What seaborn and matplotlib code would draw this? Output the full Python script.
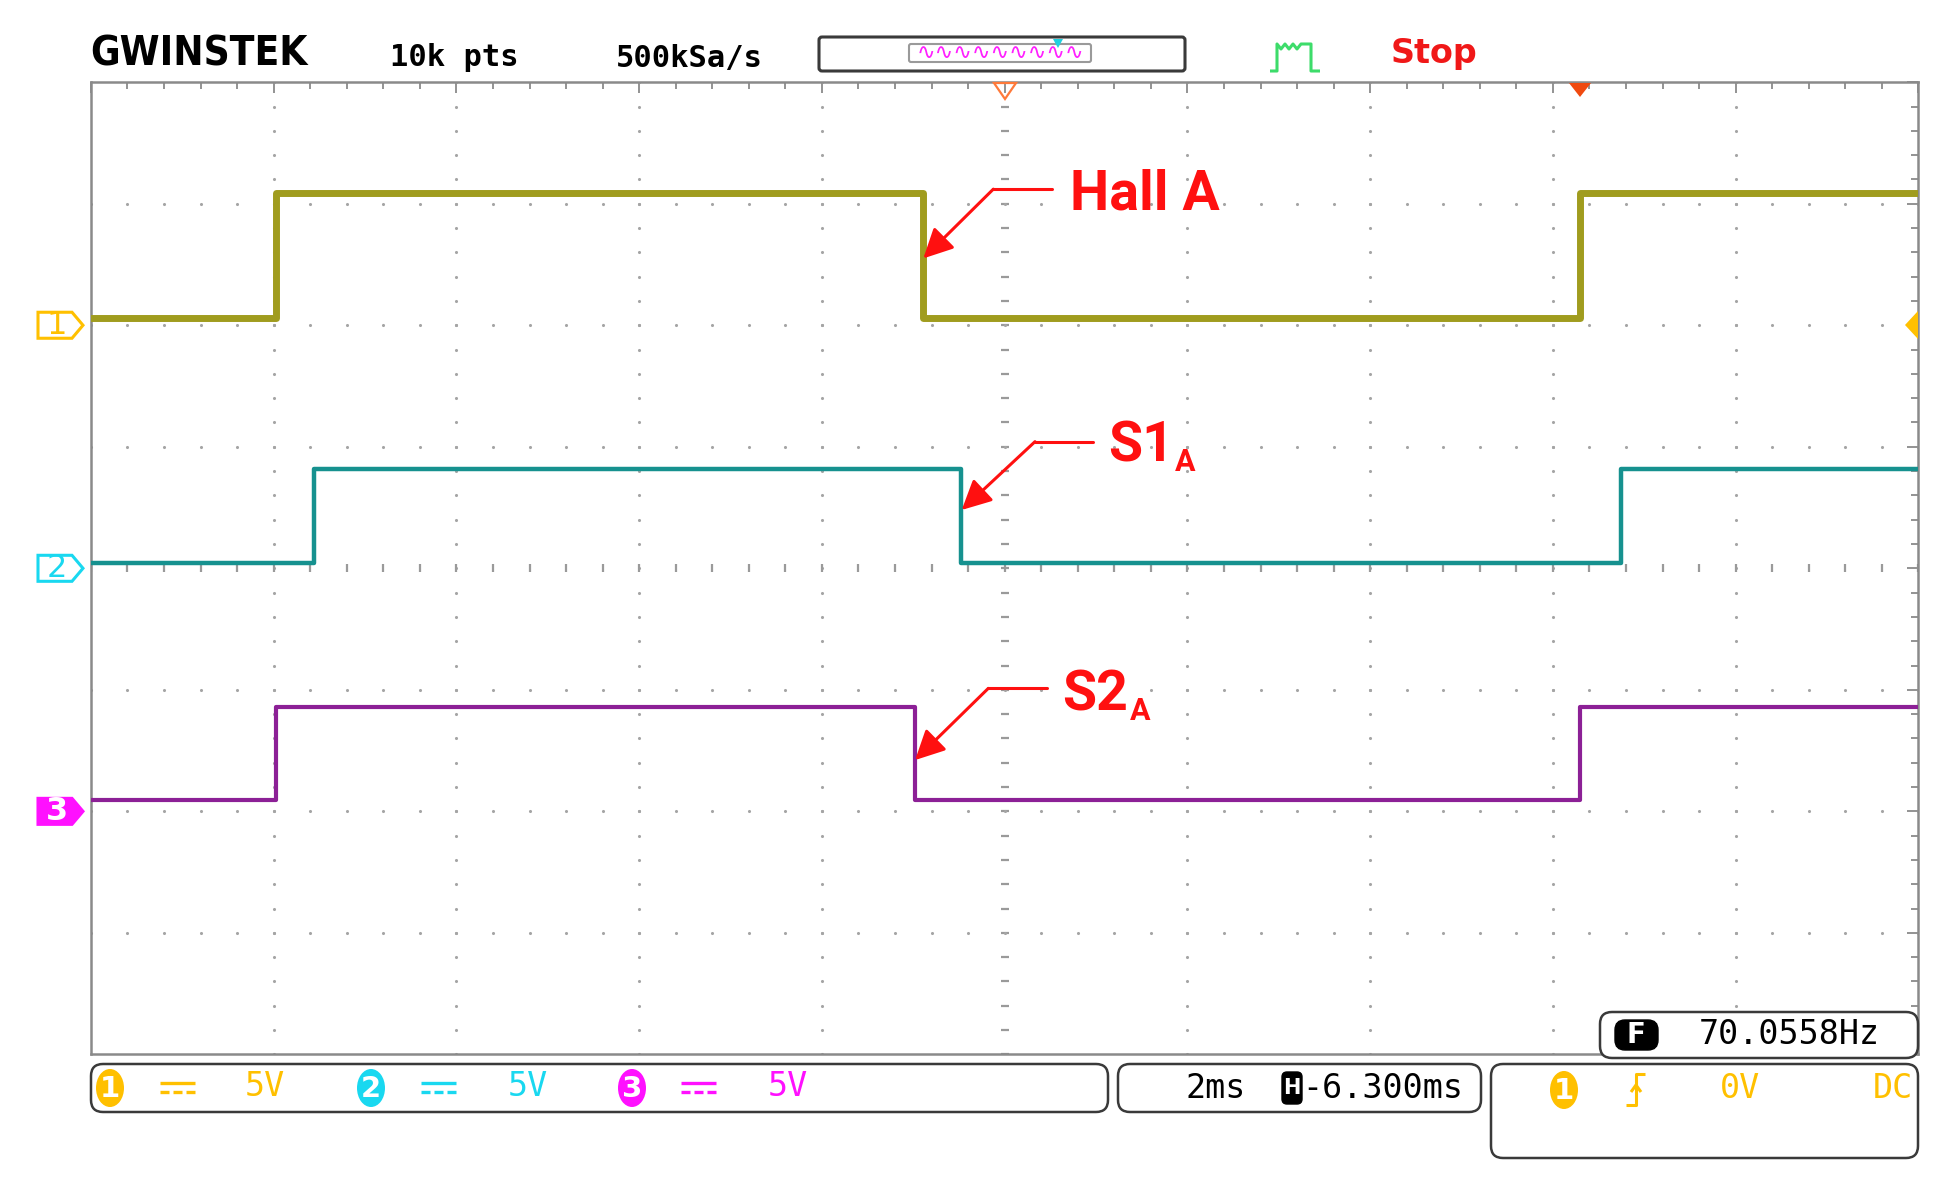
import numpy as np
import pandas as pd
import seaborn as sns
import matplotlib.pyplot as plt
from matplotlib.patches import FancyBboxPatch, Polygon, Ellipse
from matplotlib.lines import Line2D
from matplotlib.transforms import Affine2D, blended_transform_factory

W, H = 1952, 1196

# time in ms relative to the trigger (2 ms/div, H position -6.300 ms)
t_start, t_end = -16.3, 3.7
volts_per_div = 5

ch1_time = [-16.3, -14.27, -7.19, 0.0, 3.7]
ch1_volt = [0.3, 5.45, 0.3, 5.45, 5.45]
ch2_time = [-16.3, -13.86, -6.78, 0.44, 3.7]
ch2_volt = [0.2, 4.1, 0.2, 4.1, 4.1]
ch3_time = [-16.3, -14.27, -7.28, 0.0, 3.7]
ch3_volt = [0.45, 4.3, 0.45, 4.3, 4.3]

ch_names = ["CH1", "CH2", "CH3"]
ch_offsets = [2, 0, -2]          # ground position in divisions
trace_colors = ["#a09c1e", "#16918f", "#8c2096"]
trace_widths = [5.0, 3.2, 3.0]
marker_colors = ["#ffc000", "#19d8f0", "#ff10ff"]

# annotations: label, subscript, text x, baseline y, line start x, elbow x, line y, tip
ann_labels = ["Hall A", "S1", "S2"]
ann_sub = ["", "A", "A"]
ann_text_x = [-5.58, -5.17, -5.67]
ann_text_y = [2.95, 0.877, -1.174]
ann_line_x0 = [-5.785, -5.333, -5.84]
ann_elbow_x = [-6.424, -5.968, -6.479]
ann_line_y = [3.12, 1.042, -0.988]
ann_tip_x = [-7.19, -6.77, -7.28]
ann_tip_y = [2.55, 0.48, -1.578]

sns.set_style("white")
plt.rcParams["font.family"] = ["DejaVu Sans"]

fig = plt.figure(figsize=(W / 100, H / 100), dpi=100)
ax = fig.add_axes([90.9 / W, 1 - 1054.4 / H, 1827.5 / W, 972.2 / H])
pix = Affine2D().scale(1 / W, -1 / H).translate(0, 1) + fig.transFigure

# grid (scope style dotted graticule)
x_major = np.linspace(t_start, t_end, 11)
x_minor = np.linspace(t_start, t_end, 51)
y_major = np.linspace(-4, 4, 9)
y_minor = np.linspace(-4, 4, 41)
for xv in x_major[1:-1]:
    if abs(xv - (-6.3)) < 1e-6:
        ax.scatter(np.full(len(y_minor), xv), y_minor, marker="_", s=40, color="#9a9a9a", lw=1.6, zorder=1)
    else:
        ax.scatter(np.full(len(y_minor), xv), y_minor, s=5, color="#a5a5a5", lw=0, zorder=1)
for yv in y_major[1:-1]:
    if abs(yv) < 1e-6:
        ax.scatter(x_minor, np.full(len(x_minor), yv), marker="|", s=40, color="#9a9a9a", lw=1.6, zorder=1)
    else:
        ax.scatter(x_minor, np.full(len(x_minor), yv), s=5, color="#a5a5a5", lw=0, zorder=1)

# traces
for name, t, v, off, c, lw in zip(ch_names, [ch1_time, ch2_time, ch3_time],
                                  [ch1_volt, ch2_volt, ch3_volt], ch_offsets,
                                  trace_colors, trace_widths):
    df = pd.DataFrame({"time": t, "div": off + np.array(v) / volts_per_div})
    sns.lineplot(data=df, x="time", y="div", color=c, lw=lw, drawstyle="steps-post",
                 estimator=None, sort=False, legend=False, ax=ax, zorder=3)

ax.set_xlim(t_start, t_end)
ax.set_ylim(-4, 4)
ax.set_xlabel("")
ax.set_ylabel("")
ax.set_xticks(x_major)
ax.set_xticks(x_minor, minor=True)
ax.set_yticks(y_major)
ax.set_yticks(y_minor, minor=True)
ax.tick_params(which="both", direction="in", top=True, right=True,
               labelbottom=False, labelleft=False, color="#8a8a8a", width=1.3)
ax.tick_params(which="major", length=8)
ax.tick_params(which="minor", length=5)
for s in ax.spines.values():
    s.set_color("#8a8a8a")
    s.set_linewidth(1.8)

# red annotations
for lab, sub, tx, ty, lx0, ex, ly, px_, py_ in zip(ann_labels, ann_sub, ann_text_x, ann_text_y,
                                                   ann_line_x0, ann_elbow_x, ann_line_y,
                                                   ann_tip_x, ann_tip_y):
    ax.plot([lx0, ex], [ly, ly], color="#ff1010", lw=2.2, zorder=4)
    ax.annotate("", xy=(px_, py_), xytext=(ex, ly),
                arrowprops=dict(arrowstyle="-|>,head_length=0.5,head_width=0.25",
                                color="#ff1010", lw=2.2, mutation_scale=36,
                                shrinkA=0, shrinkB=0), zorder=4)
    main = ax.text(tx, ty, lab, color="#ff1010", fontsize=40, fontweight="bold",
                   family="Roboto", va="baseline", ha="left", zorder=4)
    if sub:
        ax.annotate(sub, xy=(1, 0), xycoords=main, xytext=(1, -3), textcoords="offset points",
                    color="#ff1010", fontsize=22, fontweight="bold", family="Roboto",
                    va="bottom", ha="left", zorder=4)


def box(x0, y0, x1, y1, r=12, fc="white", ec="#3a3a3a", lw=1.8, z=5):
    p = FancyBboxPatch((x0, y0), x1 - x0, y1 - y0, boxstyle=f"round,pad=0,rounding_size={r}",
                       transform=pix, fc=fc, ec=ec, lw=lw, zorder=z, clip_on=False)
    fig.add_artist(p)


def label(x, y, s, color="black", size=24, ha="left", family="DejaVu Sans Mono",
          weight="normal", z=7, stretch="normal"):
    fig.text(x, y, s, transform=pix, color=color, fontsize=size, ha=ha, va="center",
             family=family, weight=weight, zorder=z, fontstretch=stretch)


def line(xs, ys, color, lw=2.2, z=7, ls="-"):
    fig.add_artist(Line2D(xs, ys, transform=pix, color=color, lw=lw, ls=ls, zorder=z,
                          solid_capstyle="butt"))


# header
label(90, 54, "GWINSTEK", size=29, family="DejaVu Sans", weight="heavy", stretch="condensed")
label(390, 58, "10k pts", size=22, weight="bold")
label(616, 58, "500kSa/s", size=22, weight="bold")
box(819, 37, 1185, 71, r=3, lw=2.2)
box(909, 44, 1091, 62, r=2, ec="#9a9a9a", lw=1.5)
label(1000, 53, "\u223f" * 9, color="#ff20ff", size=16, ha="center", family="DejaVu Sans")
fig.add_artist(Polygon([(1053, 39), (1063, 39), (1058, 48)], closed=True, transform=pix,
                       fc="#20d0e0", ec="none", zorder=8))
line([1270, 1277, 1277, 1281, 1285, 1289, 1293, 1297, 1301, 1305, 1311, 1311, 1320],
     [71, 71, 44, 49, 44, 49, 44, 49, 44, 44, 44, 71, 71], "#3ddc6a", lw=2.2)
label(1391, 54, "Stop", color="#f01818", size=24, family="DejaVu Sans", weight="bold")

# trigger / position markers on the graticule edge
fig.add_artist(Polygon([(994, 83), (1016, 83), (1005, 99)], closed=True, transform=pix,
                       fc="none", ec="#ff7a3a", lw=1.6, zorder=8))
fig.add_artist(Polygon([(1569, 83), (1591, 83), (1580, 97)], closed=True, transform=pix,
                       fc="#f04a10", ec="none", zorder=8))
fig.add_artist(Polygon([(1918, 311), (1918, 339), (1905, 325)], closed=True, transform=pix,
                       fc="#ffc000", ec="none", zorder=8))

# channel ground markers on the left
trans = blended_transform_factory(pix, ax.transData)
hh = 0.107
for i, (off, c) in enumerate(zip(ch_offsets, marker_colors)):
    filled = i == 2
    fig.add_artist(Polygon([(38, off - hh), (72, off - hh), (83, off), (72, off + hh), (38, off + hh)],
                           closed=True, transform=trans, fc=c if filled else "white", ec=c,
                           lw=2.2, zorder=8, clip_on=False))
    fig.text(57, off, str(i + 1), transform=trans, color="white" if filled else c, fontsize=23,
             ha="center", va="center", zorder=9, family="DejaVu Sans", weight="bold" if filled else "normal")

# status bar
box(91, 1064, 1108, 1112)
box(1118, 1064, 1481, 1112)
box(1491, 1064, 1918, 1158)
box(1600, 1012, 1918, 1058, z=6)

ellipse_x = [110, 371, 632]
dc_x = [160, 421, 681]
volt_x = [245, 508, 768]
for i, c in enumerate(marker_colors):
    fig.add_artist(Ellipse((ellipse_x[i], 1088), 28, 38, transform=pix, fc=c, ec="none", zorder=7))
    label(ellipse_x[i], 1089, str(i + 1), color="white", size=21, ha="center",
          family="DejaVu Sans", weight="bold", z=8)
    line([dc_x[i], dc_x[i] + 35], [1083, 1083], c, lw=2.4)
    for k in range(3):
        line([dc_x[i] + k * 13, dc_x[i] + k * 13 + 9], [1092, 1092], c, lw=2.4)
    label(volt_x[i], 1087, "5V", color=c, size=24)

label(1185, 1088, "2ms", size=24)
box(1282, 1072, 1302, 1104, r=5, fc="black", ec="black", lw=1, z=7)
label(1292, 1088, "H", color="white", size=15, ha="center", family="DejaVu Sans", weight="bold", z=8)
label(1302, 1088, "-6.300ms", size=24)

fig.add_artist(Ellipse((1564, 1090), 28, 38, transform=pix, fc=marker_colors[0], ec="none", zorder=7))
label(1564, 1091, "1", color="white", size=21, ha="center", family="DejaVu Sans", weight="bold", z=8)
line([1626, 1636, 1636, 1645], [1105, 1105, 1074, 1074], marker_colors[0], lw=2.2)
line([1631, 1636, 1641], [1092, 1085, 1092], marker_colors[0], lw=2.2)
label(1720, 1088, "0V", color=marker_colors[0], size=24)
label(1913, 1088, "DC", color=marker_colors[0], size=24, ha="right")

box(1615, 1020, 1658, 1050, r=10, fc="black", ec="black", lw=1, z=7)
label(1636, 1035, "F", color="white", size=20, ha="center", family="DejaVu Sans", weight="bold", z=8)
label(1699, 1035, "70.0558Hz", size=24)

fig.savefig("out.png", dpi=100)
